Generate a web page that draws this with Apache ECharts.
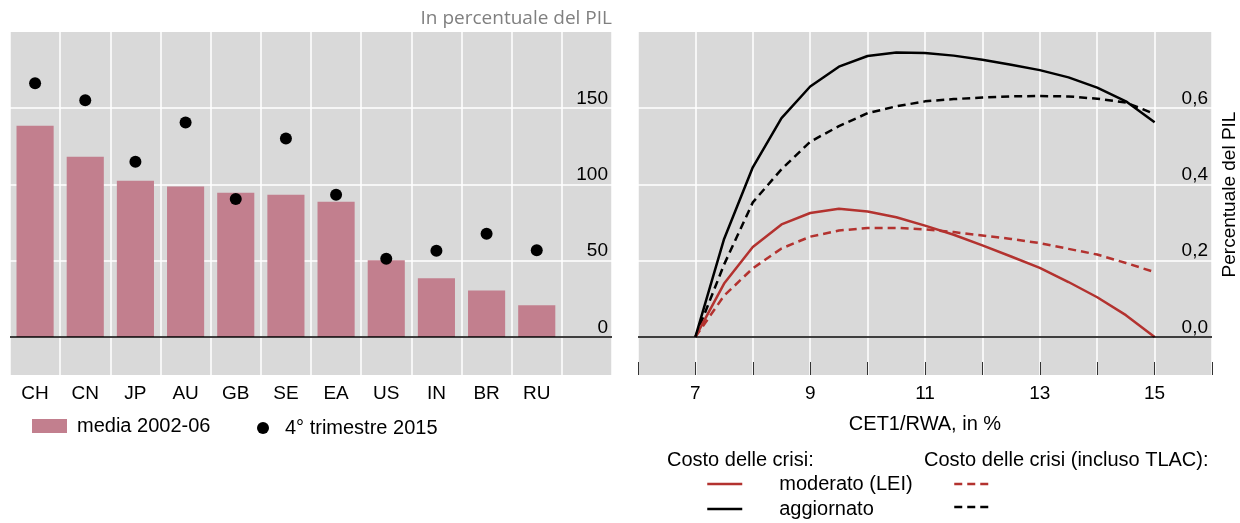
<!DOCTYPE html>
<html>
<head>
<meta charset="utf-8">
<script src="https://cdn.jsdelivr.net/npm/echarts@6/dist/echarts.min.js"></script>
<style>
  html, body { margin: 0; padding: 0; background: #fff; }
  #chart { width: 1240px; height: 523px; }
</style>
</head>
<body>
<div id="chart"></div>
<script>
// ---- Left panel data ----
const categories = ['CH', 'CN', 'JP', 'AU', 'GB', 'SE', 'EA', 'US', 'IN', 'BR', 'RU', ''];
const media0206 = [138.5, 118.2, 102.5, 98.6, 94.6, 93.3, 88.7, 50.2, 38.4, 30.5, 20.7];
const q4_2015 = [166.4, 155.3, 114.9, 140.6, 90.4, 130.2, 93.3, 51.3, 56.5, 67.6, 56.9];
const leftTicks = [0, 50, 100, 150];

// ---- Right panel data ----
const cet1 = [7, 7.5, 8, 8.5, 9, 9.5, 10, 10.5, 11, 11.5, 12, 12.5, 13, 13.5, 14, 14.5, 15];
const moderato = [0, 0.140, 0.236, 0.295, 0.325, 0.336, 0.329, 0.314, 0.292, 0.268, 0.240, 0.211, 0.181, 0.144, 0.104, 0.057, 0];
const aggiornato = [0, 0.257, 0.445, 0.574, 0.657, 0.709, 0.737, 0.746, 0.745, 0.738, 0.727, 0.714, 0.700, 0.681, 0.654, 0.618, 0.563];
const moderatoTlac = [0, 0.108, 0.180, 0.232, 0.263, 0.279, 0.286, 0.286, 0.282, 0.275, 0.266, 0.257, 0.246, 0.231, 0.216, 0.194, 0.170];
const aggiornatoTlac = [0, 0.190, 0.353, 0.440, 0.512, 0.553, 0.587, 0.605, 0.618, 0.624, 0.628, 0.631, 0.632, 0.631, 0.625, 0.615, 0.585];
const rightTicks = [0, 0.2, 0.4, 0.6];
const xLabelTicks = [7, 9, 11, 13, 15];

const FONT = 'Liberation Sans, Arial, sans-serif';
const RED = '#b3322f';
const BLACK = '#000000';
const BG = '#d9d9d9';
const BAR = '#c27f8e';

const pairs = (ys) => cet1.map((x, i) => [x, ys[i]]);
const zeroLine = {
  silent: true, symbol: 'none', label: { show: false },
  lineStyle: { color: '#000', width: 1.5, type: 'solid' },
  emphasis: { disabled: true },
  data: [{ yAxis: 0 }]
};

const chart = echarts.init(document.getElementById('chart'), null, { renderer: 'canvas' });

const option = {
  animation: false,
  backgroundColor: '#ffffff',
  title: [
    { text: 'In percentuale del PIL', right: 628, top: 9, padding: 0,
      textStyle: { fontFamily: 'Open Sans', fontSize: 19, fontWeight: 'normal', color: '#808080' } },
    { text: 'Costo delle crisi:', left: 667, top: 450, padding: 0,
      textStyle: { fontFamily: FONT, fontSize: 20, fontWeight: 'normal', color: '#000' } },
    { text: 'Costo delle crisi (incluso TLAC):', left: 924, top: 450, padding: 0,
      textStyle: { fontFamily: FONT, fontSize: 20, fontWeight: 'normal', color: '#000' } }
  ],
  legend: [
    { data: [{ name: 'media 2002-06', icon: 'rect' }], left: 32, top: 416, padding: 0,
      itemWidth: 35, itemHeight: 14, selectedMode: false,
      textStyle: { fontFamily: FONT, fontSize: 20, color: '#000', padding: [0, 0, 0, 5] } },
    { data: [{ name: '4° trimestre 2015', icon: 'circle' }], left: 257, top: 418, padding: 0,
      itemWidth: 34, itemHeight: 12, selectedMode: false,
      itemStyle: { opacity: 1 },
      textStyle: { fontFamily: FONT, fontSize: 20, color: '#000' } },
    { data: ['moderato (LEI)', 'aggiornato'], left: 706, top: 474, padding: 0, orient: 'vertical',
      itemWidth: 35, itemHeight: 20, itemGap: 5, selectedMode: false,
      lineStyle: { width: 2.5 }, itemStyle: { opacity: 0 },
      textStyle: { fontFamily: FONT, fontSize: 20, color: '#000', padding: [0, 0, 0, 32] } },
    { data: ['moderato (LEI) – TLAC', 'aggiornato – TLAC'], left: 953, top: 474, padding: 0, orient: 'vertical',
      itemWidth: 35, itemHeight: 20, itemGap: 5, selectedMode: false,
      lineStyle: { width: 2.5 }, itemStyle: { opacity: 0 },
      formatter: () => '',
      textStyle: { fontFamily: FONT, fontSize: 20, color: '#000' } }
  ],
  grid: [
    { left: 10, top: 32, width: 602, height: 343, show: true, backgroundColor: BG, borderWidth: 0, outerBoundsMode: 'none' },
    { left: 638, top: 32, width: 574, height: 343, show: true, backgroundColor: BG, borderWidth: 0, outerBoundsMode: 'none' }
  ],
  xAxis: [
    { type: 'category', gridIndex: 0, data: categories, boundaryGap: true,
      axisLine: { show: false, onZero: false }, axisTick: { show: false },
      axisLabel: { interval: 0, fontFamily: FONT, fontSize: 19, color: '#000', margin: 9 },
      splitLine: { show: true, interval: 0, lineStyle: { color: '#ffffff', width: 1.5 } } },
    { type: 'value', gridIndex: 1, min: 6, max: 16, interval: 1,
      name: 'CET1/RWA, in %', nameLocation: 'middle', nameGap: 39,
      nameTextStyle: { fontFamily: FONT, fontSize: 20, color: '#000' },
      axisLine: { show: false, onZero: false },
      axisTick: { show: true, inside: true, length: 13, lineStyle: { color: '#333', width: 1 } },
      axisLabel: { fontFamily: FONT, fontSize: 19, color: '#000', margin: 9,
        formatter: (v) => (xLabelTicks.indexOf(v) >= 0 ? String(v) : '') },
      splitLine: { show: true, lineStyle: { color: '#ffffff', width: 1.5 } } }
  ],
  yAxis: [
    { type: 'value', gridIndex: 0, position: 'right', min: -25, max: 200,
      axisLine: { show: false, onZero: false },
      axisTick: { show: false, customValues: leftTicks },
      axisLabel: { inside: true, customValues: leftTicks, margin: 4, verticalAlign: 'bottom',
        fontFamily: FONT, fontSize: 19, color: '#000' },
      splitLine: { show: true, lineStyle: { color: '#ffffff', width: 1.5 } } },
    { type: 'value', gridIndex: 1, position: 'right', min: -0.1, max: 0.8,
      name: 'Percentuale del PIL', nameLocation: 'middle', nameRotate: 90, nameGap: 8,
      nameTextStyle: { fontFamily: FONT, fontSize: 19, color: '#000', padding: [0, 0, 0, 18] },
      axisLine: { show: false, onZero: false },
      axisTick: { show: false, customValues: rightTicks },
      axisLabel: { inside: true, customValues: rightTicks, margin: 4, verticalAlign: 'bottom',
        fontFamily: FONT, fontSize: 19, color: '#000',
        formatter: (v) => v.toFixed(1).replace('.', ',') },
      splitLine: { show: true, lineStyle: { color: '#ffffff', width: 1.5 } } }
  ],
  series: [
    { name: 'media 2002-06', type: 'bar', xAxisIndex: 0, yAxisIndex: 0, data: media0206,
      barCategoryGap: '26%', itemStyle: { color: BAR }, silent: true, markLine: zeroLine },
    { name: '4° trimestre 2015', type: 'scatter', xAxisIndex: 0, yAxisIndex: 0, data: q4_2015,
      symbol: 'circle', symbolSize: 12, itemStyle: { color: '#000', opacity: 1 }, silent: true, z: 5 },
    { name: 'moderato (LEI) – TLAC', type: 'line', xAxisIndex: 1, yAxisIndex: 1, data: pairs(moderatoTlac),
      symbol: 'none', lineStyle: { color: RED, width: 2.5, type: [8, 5] }, itemStyle: { color: RED }, silent: true },
    { name: 'aggiornato – TLAC', type: 'line', xAxisIndex: 1, yAxisIndex: 1, data: pairs(aggiornatoTlac),
      symbol: 'none', lineStyle: { color: BLACK, width: 2.5, type: [8, 5] }, itemStyle: { color: BLACK }, silent: true },
    { name: 'moderato (LEI)', type: 'line', xAxisIndex: 1, yAxisIndex: 1, data: pairs(moderato),
      symbol: 'none', lineStyle: { color: RED, width: 2.5 }, itemStyle: { color: RED }, silent: true, markLine: zeroLine },
    { name: 'aggiornato', type: 'line', xAxisIndex: 1, yAxisIndex: 1, data: pairs(aggiornato),
      symbol: 'none', lineStyle: { color: BLACK, width: 2.5 }, itemStyle: { color: BLACK }, silent: true }
  ]
};
chart.setOption(option);
</script>
</body>
</html>
